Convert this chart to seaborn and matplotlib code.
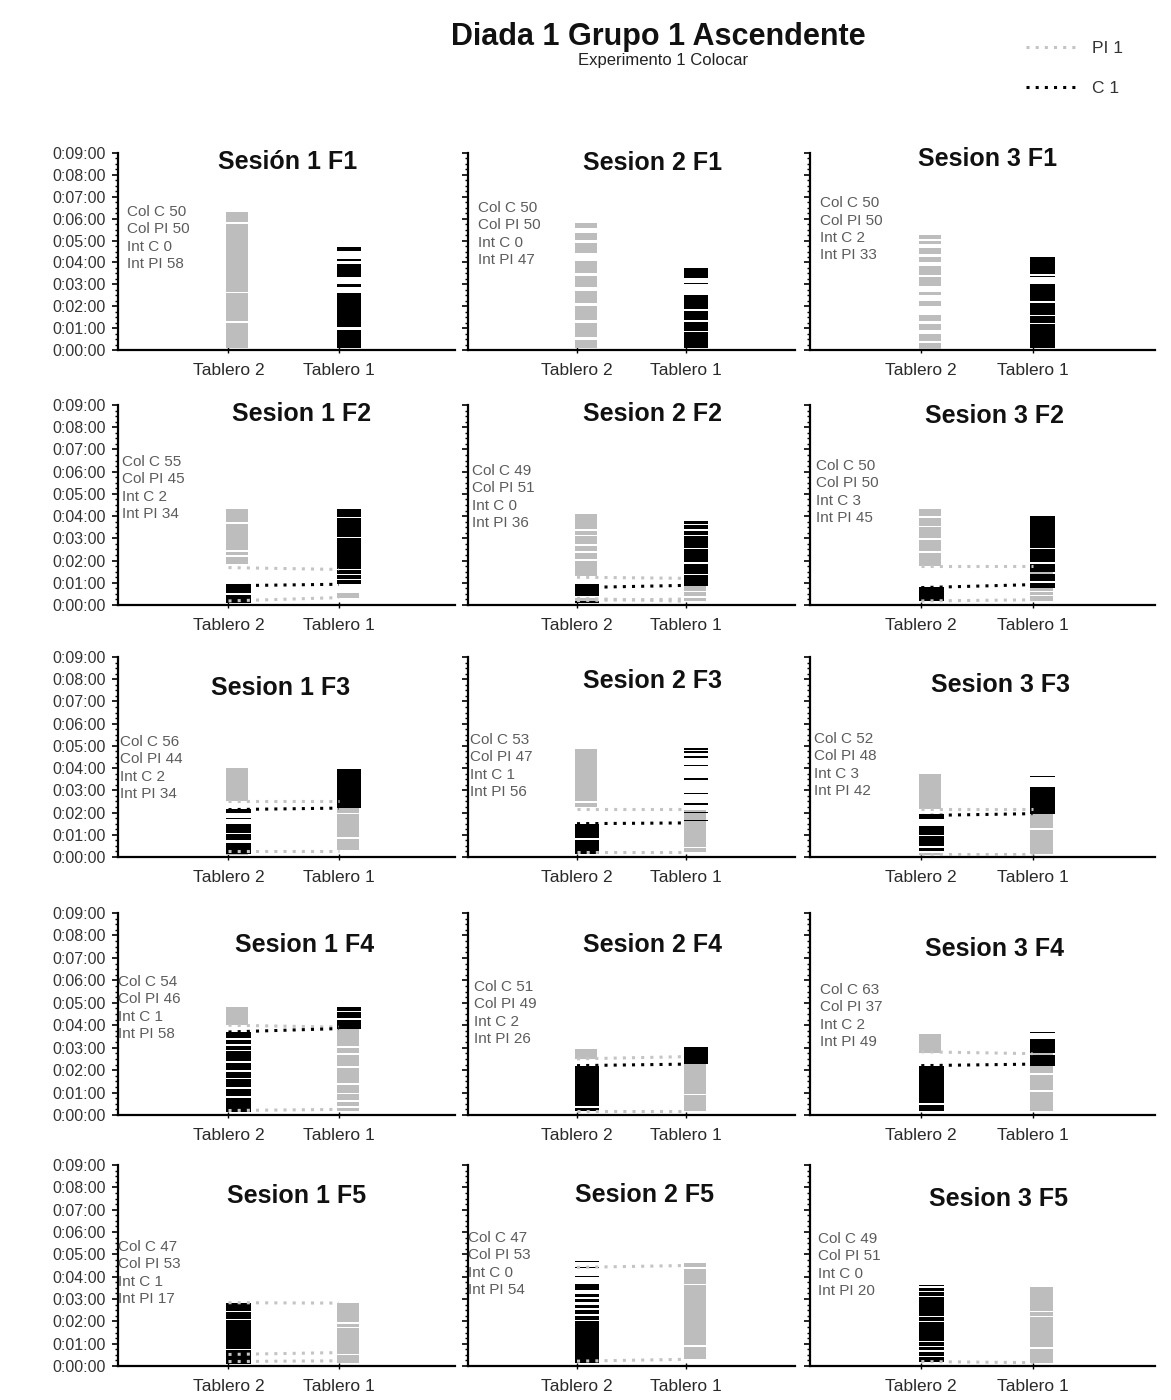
import matplotlib
matplotlib.use("Agg")
import matplotlib.pyplot as plt
from matplotlib.lines import Line2D
from matplotlib.ticker import MultipleLocator
import seaborn as sns

sns.set_theme(style="white")
plt.rcParams['font.family'] = ['Liberation Sans', 'DejaVu Sans']

# panel order: row by row (F1..F5), columns Sesion 1..3
titles = ["Sesión 1 F1", "Sesion 2 F1", "Sesion 3 F1",
          "Sesion 1 F2", "Sesion 2 F2", "Sesion 3 F2",
          "Sesion 1 F3", "Sesion 2 F3", "Sesion 3 F3",
          "Sesion 1 F4", "Sesion 2 F4", "Sesion 3 F4",
          "Sesion 1 F5", "Sesion 2 F5", "Sesion 3 F5"]
col_c = [50, 50, 50, 55, 49, 50, 56, 53, 52, 54, 51, 63, 47, 47, 49]
col_pi = [50, 50, 50, 45, 51, 50, 44, 47, 48, 46, 49, 37, 53, 53, 51]
int_c = [0, 0, 2, 2, 0, 3, 2, 1, 3, 1, 2, 2, 1, 0, 0]
int_pi = [58, 47, 33, 34, 36, 45, 34, 56, 42, 58, 26, 49, 17, 54, 20]

tableros = ["Tablero 2", "Tablero 1"]
time_labels = ["0:00:00", "0:01:00", "0:02:00", "0:03:00", "0:04:00",
               "0:05:00", "0:06:00", "0:07:00", "0:08:00", "0:09:00"]

# event spans in seconds (start, end) for each panel
pi_t2 = [
    [(5, 75), (80, 155), (160, 345), (352, 378)],
    [(5, 28), (37, 74), (83, 120), (129, 161), (174, 202), (211, 243), (266, 293), (302, 320), (334, 348)],
    [(4, 20), (25, 45), (55, 70), (80, 95), (120, 135), (150, 160), (175, 200), (205, 230), (240, 255),
     (262, 280), (290, 300), (305, 314)],
    [(6, 12), (110, 130), (134, 144), (148, 220), (224, 258)],
    [(8, 18), (79, 120), (125, 140), (145, 160), (165, 185), (190, 200), (205, 245)],
    [(105, 140), (145, 175), (180, 210), (214, 235), (240, 258)],
    [(5, 10), (150, 240)],
    [(135, 145), (150, 292)],
    [(6, 10), (130, 224)],
    [(240, 289)],
    [(150, 176)],
    [(167, 217)],
    [(8, 14)],
    [(10, 14), (263, 267)],
    [],
]
c_t2 = [
    [], [], [],
    [(6, 28), (32, 56)],
    [(5, 10), (25, 57)],
    [(11, 49)],
    [(7, 38), (47, 62), (65, 88), (103, 106), (120, 129)],
    [(9, 46), (50, 90)],
    [(16, 24), (31, 56), (60, 85), (103, 117)],
    [(7, 45), (50, 70), (75, 95), (100, 115), (120, 140), (145, 170), (175, 185), (190, 200), (205, 222)],
    [(11, 19), (23, 132)],
    [(11, 28), (32, 132)],
    [(5, 43), (47, 123), (127, 145), (149, 170)],
    [(9, 120), (124, 135), (140, 150), (155, 165), (172, 180), (185, 193), (205, 219), (240, 242),
     (262, 265), (279, 283)],
    [(12, 24), (28, 38), (42, 51), (55, 64), (68, 118), (122, 131), (135, 185), (189, 198), (202, 210),
     (214, 218)],
]
pi_t1 = [
    [], [], [],
    [(18, 33)],
    [(10, 20), (24, 35), (38, 50)],
    [(11, 25), (28, 36), (39, 47), (69, 105)],
    [(20, 49), (53, 116), (120, 145)],
    [(13, 24), (28, 126)],
    [(9, 74), (78, 130)],
    [(12, 20), (25, 35), (40, 55), (60, 80), (85, 125), (130, 160), (165, 180), (185, 231)],
    [(11, 53), (57, 144)],
    [(11, 62), (66, 107), (111, 167)],
    [(9, 29), (33, 101), (105, 114), (118, 169)],
    [(18, 52), (56, 217), (221, 261), (265, 277)],
    [(8, 46), (50, 131), (135, 144), (148, 213)],
]
c_t1 = [
    [(5, 55), (62, 155), (172, 180), (200, 235), (245, 250), (272, 282)],
    [(5, 49), (53, 77), (81, 108), (112, 152), (180, 183), (197, 225)],
    [(5, 70), (75, 93), (97, 130), (134, 182), (200, 203), (209, 255)],
    [(56, 68), (70, 82), (85, 95), (98, 180), (184, 234), (237, 258)],
    [(52, 80), (85, 110), (115, 150), (155, 185), (190, 200), (205, 215), (220, 227)],
    [(47, 60), (64, 85), (88, 110), (115, 150), (155, 240)],
    [(132, 238)],
    [(97, 101), (118, 122), (140, 146), (169, 173), (209, 213), (245, 249), (268, 272), (281, 285), (290, 294)],
    [(117, 188), (216, 220)],
    [(231, 255), (260, 275), (279, 289)],
    [(136, 181)],
    [(132, 161), (165, 203), (218, 222)],
    [], [], [],
]
# board changes: (time on Tablero 2, time on Tablero 1)
pi_moves = [
    [], [], [],
    [(101, 96), (11, 20)],
    [(75, 72), (18, 10), (12, 16)],
    [(105, 105), (11, 14)],
    [(150, 150), (15, 15)],
    [(130, 130), (13, 13)],
    [(130, 130), (9, 9)],
    [(240, 235), (12, 15)],
    [(150, 156), (11, 11)],
    [(169, 164)],
    [(170, 169), (31, 36), (12, 14)],
    [(265, 270), (13, 18)],
    [(12, 9)],
]
c_moves = [
    [], [], [],
    [(52, 56)],
    [(47, 53)],
    [(47, 55)],
    [(128, 132)],
    [(90, 92)],
    [(112, 117)],
    [(222, 231)],
    [(132, 136)],
    [(132, 136)],
    [], [], [],
]

# layout (pixels on a 1171 x 1400 canvas)
W, H = 1171, 1400
col_left = [118, 468, 810]
col_width = [337, 327, 345]
col_xmax = [3.05, 3.0, 3.1]
row_bottom = [350, 605, 857, 1115, 1366]
row_height = [197, 200, 200, 202, 201]
title_x = [0.504, 0.563, 0.516, 0.546, 0.563, 0.536, 0.481, 0.563, 0.551,
           0.555, 0.563, 0.536, 0.531, 0.541, 0.545]
title_y = [0.954, 0.949, 0.97, 0.955, 0.955, 0.945, 0.845, 0.88, 0.86,
           0.842, 0.842, 0.822, 0.846, 0.851, 0.831]
text_x = [0.027, 0.03, 0.03, 0.012, 0.012, 0.017, 0.006, 0.006, 0.012,
          0.0, 0.018, 0.03, 0.0, 0.0, 0.023]
text_y = [0.736, 0.756, 0.78, 0.75, 0.705, 0.73, 0.61, 0.62, 0.625,
          0.693, 0.668, 0.653, 0.627, 0.672, 0.667]

GRAY = "#bdbdbd"
BLACK = "#000000"
TEXT = "#5c5c5c"


def draw_spans(ax, x, spans, color, width):
    if not spans:
        return
    lows = [a for a, b in spans]
    heights = [b - a for a, b in spans]
    ax.bar([x - 0.02] * len(spans), heights, bottom=lows, width=width,
           align="edge", color=color, linewidth=0, zorder=3)


def draw_moves(ax, moves, color):
    for y2, y1 in moves:
        ax.plot([1, 2], [y2, y1], color=color, lw=2.2, dashes=(1, 2),
                solid_capstyle="butt", zorder=4)


fig = plt.figure(figsize=(W / 100, H / 100), dpi=100)

for i in range(len(titles)):
    r, c = divmod(i, 3)
    ax = fig.add_axes([col_left[c] / W, 1 - row_bottom[r] / H,
                       col_width[c] / W, row_height[r] / H])

    draw_moves(ax, pi_moves[i], "#c4c4c4")
    draw_spans(ax, 1, pi_t2[i], GRAY, 0.2)
    draw_spans(ax, 2, pi_t1[i], GRAY, 0.2)
    draw_spans(ax, 1, c_t2[i], BLACK, 0.22)
    draw_spans(ax, 2, c_t1[i], BLACK, 0.22)
    draw_moves(ax, c_moves[i], BLACK)

    ax.set_xlim(0, col_xmax[c])
    ax.set_ylim(0, 540)
    ax.set_xticks([1, 2])
    ax.set_xticklabels(tableros, fontsize=12.5, color="#2a2a2a")
    ax.set_yticks(range(0, 541, 60))
    if c == 0:
        ax.set_yticklabels(time_labels, fontsize=11.5, color="#333333")
    else:
        ax.set_yticklabels([])
    ax.yaxis.set_minor_locator(MultipleLocator(15))
    ax.tick_params(axis="x", direction="inout", length=5, width=1, color="black", pad=7, bottom=True)
    ax.tick_params(axis="y", which="major", direction="out", length=4, width=1.2, color="black",
                   pad=5, left=True)
    ax.tick_params(axis="y", which="minor", direction="out", length=2.5, width=1, color="black", left=True)

    sns.despine(ax=ax)
    for side in ["left", "bottom"]:
        ax.spines[side].set_color("black")
        ax.spines[side].set_linewidth(1.6)
    ax.grid(False)
    ax.set_facecolor("none")

    ax.text(title_x[i], title_y[i], titles[i], transform=ax.transAxes, ha="center", va="center",
            fontsize=18, fontweight="bold", color="#111111")
    stats = f"Col C {col_c[i]}\nCol PI {col_pi[i]}\nInt C {int_c[i]}\nInt PI {int_pi[i]}"
    ax.text(text_x[i], text_y[i], stats, transform=ax.transAxes, ha="left", va="top",
            fontsize=11, color=TEXT, linespacing=1.3)

fig.text(658 / W, 1 - 37 / H, "Diada 1 Grupo 1 Ascendente", ha="center", va="center",
         fontsize=22, fontweight="bold", color="#111111")
fig.text(663 / W, 1 - 61 / H, "Experimento 1 Colocar", ha="center", va="center",
         fontsize=12, color="#222222")

handles = [Line2D([0], [0], color="#c4c4c4", lw=2.2, dashes=(1, 2)),
           Line2D([0], [0], color=BLACK, lw=2.2, dashes=(1, 2))]
fig.legend(handles, ["PI 1", "C 1"], loc="upper left", bbox_to_anchor=(1010 / W, 1 - 25 / H),
           frameon=False, fontsize=12.5, handlelength=3.0, handletextpad=0.8, labelspacing=1.45,
           labelcolor="#333333")

fig.savefig("out.png", dpi=100, facecolor="white")
